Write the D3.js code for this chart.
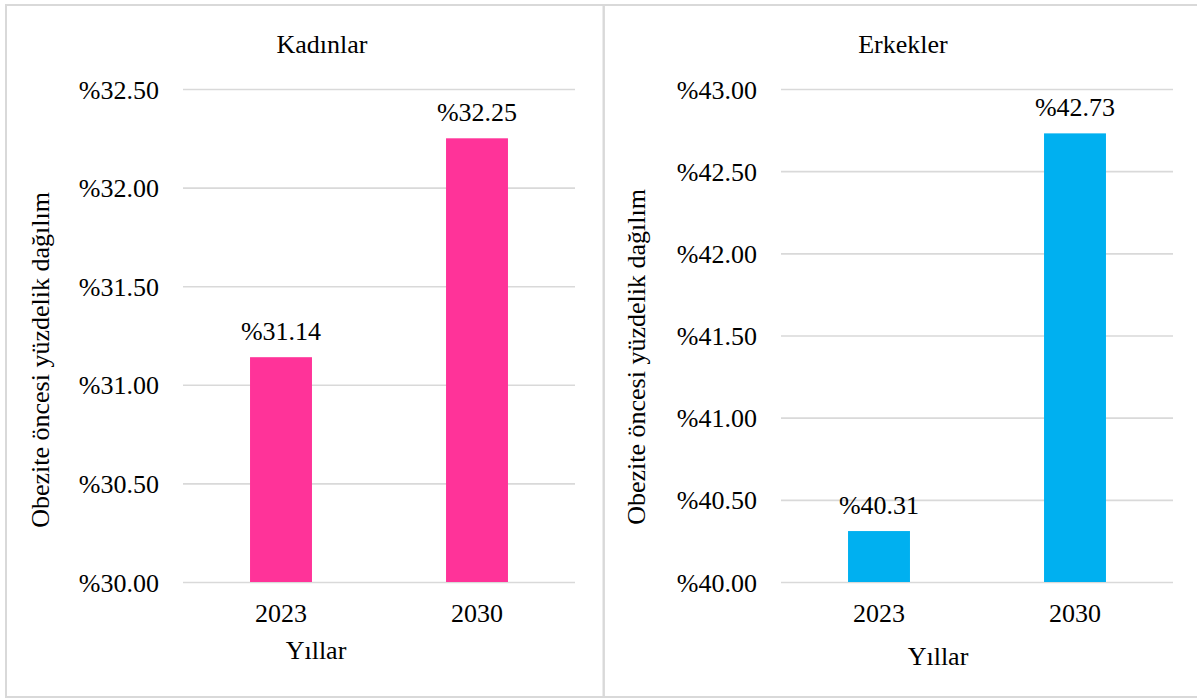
<!DOCTYPE html>
<html>
<head>
<meta charset="utf-8">
<script src="https://cdn.jsdelivr.net/npm/d3@7"></script>
<style>
  html, body { margin: 0; padding: 0; background: #fff; }
  svg { display: block; }
</style>
</head>
<body>
<svg id="chart" width="1197" height="700" style="font-family: 'Liberation Serif', 'Times New Roman', Times, 'DejaVu Serif', serif;"></svg>
<script>
// Yıllara göre obezite öncesi oranlar
const years = ["2023", "2030"];
const womenValues = [31.14, 32.25];
const menValues = [40.31, 42.73];
const womenTicks = [30.00, 30.50, 31.00, 31.50, 32.00, 32.50];
const menTicks = [40.00, 40.50, 41.00, 41.50, 42.00, 42.50, 43.00];

const FONT = "'Liberation Serif', 'Times New Roman', Times, 'DejaVu Serif', serif";
const svg = d3.select("#chart");
const fmt = v => "%" + d3.format(".2f")(v);

const panels = [
  {
    title: "Kadınlar", values: womenValues, ticks: womenTicks, color: "#FF3399",
    frame: [6, 5, 597.7, 692], plot: [183, 575], yAxisTitleX: 40, yAxisTitleY: 360,
    titleX: 322, xTitleX: 316, xTitleY: 659
  },
  {
    title: "Erkekler", values: menValues, ticks: menTicks, color: "#00B0F0",
    frame: [603.7, 5, 600, 692], plot: [781, 1173], yAxisTitleX: 636, yAxisTitleY: 357,
    titleX: 903, xTitleX: 938, xTitleY: 665
  }
];

const yTop = 89, yBottom = 582;

panels.forEach(p => {
  const g = svg.append("g");

  g.append("rect")
    .attr("x", p.frame[0]).attr("y", p.frame[1])
    .attr("width", p.frame[2]).attr("height", p.frame[3])
    .attr("fill", "none").attr("stroke", "#d9d9d9").attr("stroke-width", 2);

  const x = d3.scaleBand().domain(years).range(p.plot).paddingInner(0.684).paddingOuter(0.342);
  const y = d3.scaleLinear().domain([p.ticks[0], p.ticks[p.ticks.length - 1]]).range([yBottom, yTop]);

  // yatay kılavuz çizgileri ve değer etiketleri
  const yAxis = d3.axisLeft(y).tickValues(p.ticks).tickFormat(fmt)
    .tickSize(-(p.plot[1] - p.plot[0])).tickPadding(24);
  const ya = g.append("g").attr("transform", `translate(${p.plot[0]},0)`).call(yAxis);
  ya.attr("font-family", null).attr("font-size", null);
  ya.select(".domain").remove();
  ya.selectAll(".tick line").attr("stroke", "#d9d9d9").attr("stroke-width", 1.6);
  ya.selectAll(".tick text")
    .style("font-family", FONT).style("font-size", "26px").attr("fill", "#000")
    .attr("dy", null).attr("y", 9);

  // çubuklar
  g.selectAll("rect.bar").data(p.values).join("rect")
    .attr("class", "bar")
    .attr("x", (d, i) => x(years[i]))
    .attr("width", x.bandwidth())
    .attr("y", d => y(d))
    .attr("height", d => y(p.ticks[0]) - y(d))
    .attr("fill", p.color);

  // çubuk üstü etiketler
  g.selectAll("text.val").data(p.values).join("text")
    .attr("class", "val")
    .attr("x", (d, i) => x(years[i]) + x.bandwidth() / 2)
    .attr("y", d => y(d) - 17)
    .attr("text-anchor", "middle")
    .style("font-family", FONT).style("font-size", "26px")
    .text(fmt);

  // x ekseni
  const xAxis = d3.axisBottom(x).tickSize(0).tickPadding(0);
  const xa = g.append("g").attr("transform", `translate(0,${yBottom})`).call(xAxis);
  xa.attr("font-family", null).attr("font-size", null);
  xa.select(".domain").remove();
  xa.selectAll(".tick text")
    .style("font-family", FONT).style("font-size", "26px").attr("fill", "#000")
    .attr("dy", null).attr("y", 40);

  // başlıklar
  g.append("text").attr("x", p.titleX).attr("y", 53)
    .attr("text-anchor", "middle")
    .style("font-family", FONT).style("font-size", "26px").text(p.title);

  g.append("text").attr("x", p.xTitleX).attr("y", p.xTitleY)
    .attr("text-anchor", "middle")
    .style("font-family", FONT).style("font-size", "26px").text("Yıllar");

  g.append("text")
    .attr("transform", `translate(${p.yAxisTitleX + 9},${p.yAxisTitleY}) rotate(-90)`)
    .attr("text-anchor", "middle")
    .style("font-family", FONT).style("font-size", "26px")
    .text("Obezite öncesi yüzdelik dağılım");
});
</script>
</body>
</html>
